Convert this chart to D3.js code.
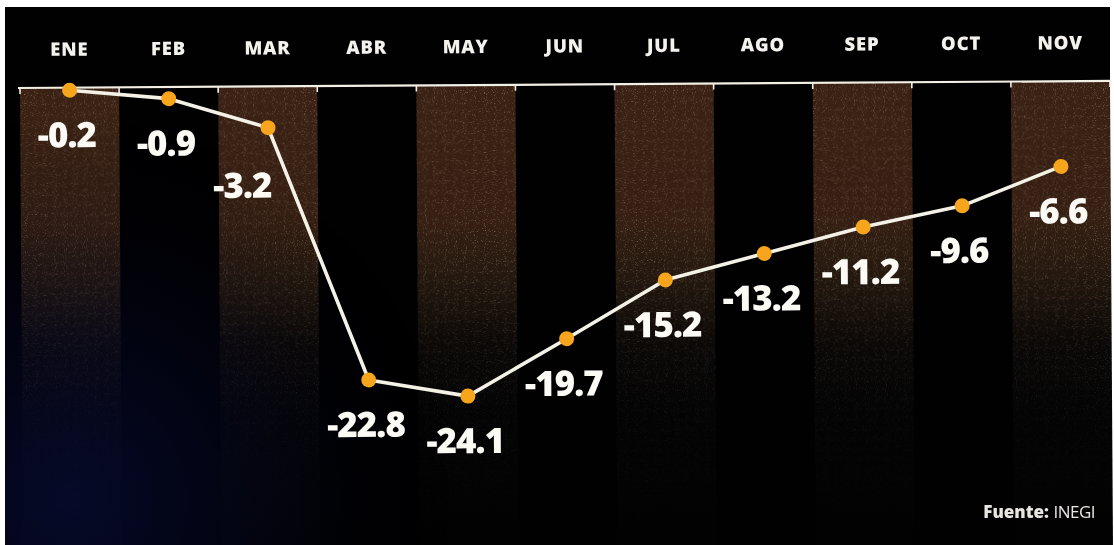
<!DOCTYPE html>
<html><head><meta charset="utf-8">
<script src="https://cdn.jsdelivr.net/npm/d3@7"></script>
<style>
html,body{margin:0;padding:0;background:#fff;}
svg{display:block;}
</style></head>
<body>
<svg id="chart" width="1114" height="545"></svg>
<script>
const months = ["ENE","FEB","MAR","ABR","MAY","JUN","JUL","AGO","SEP","OCT","NOV"];
const values = [-0.2,-0.9,-3.2,-22.8,-24.1,-19.7,-15.2,-13.2,-11.2,-9.6,-6.6];
const valueLabels = ["-0.2","-0.9","-3.2","-22.8","-24.1","-19.7","-15.2","-13.2","-11.2","-9.6","-6.6"];
const sourceBold = "Fuente:";
const sourceText = "INEGI";

const W = 1114, H = 545;
const svg = d3.select("#chart");
const defs = svg.append("defs");

const colGrad = defs.append("linearGradient").attr("id","colGrad").attr("gradientUnits","userSpaceOnUse")
  .attr("x1",0).attr("y1",88).attr("x2",0).attr("y2",545);
[["0%","#3a2114"],["30%","#351f12"],["42%","#24180e"],["56%","#0c0907"],["72%","#040405"],["100%","#020203"]]
  .forEach(([o,c])=>colGrad.append("stop").attr("offset",o).attr("stop-color",c));

// faint bluish glow at the lower left
const glow = defs.append("radialGradient").attr("id","glow").attr("gradientUnits","userSpaceOnUse")
  .attr("cx",70).attr("cy",500).attr("r",380);
glow.append("stop").attr("offset","0%").attr("stop-color","#0a1048").attr("stop-opacity",0.55);
glow.append("stop").attr("offset","45%").attr("stop-color","#070b36").attr("stop-opacity",0.3);
glow.append("stop").attr("offset","100%").attr("stop-color","#000000").attr("stop-opacity",0);

// speckle noise
const f = defs.append("filter").attr("id","speckle").attr("x",0).attr("y",0).attr("width","100%").attr("height","100%");
f.append("feTurbulence").attr("type","fractalNoise").attr("baseFrequency",0.9).attr("numOctaves",1).attr("seed",3).attr("result","n");
f.append("feColorMatrix").attr("in","n").attr("type","matrix")
  .attr("values","0 0 0 0 1  0 0 0 0 0.8  0 0 0 0 0.65  3 0 0 0 -1.75").attr("result","dots");
f.append("feComposite").attr("in","dots").attr("in2","SourceGraphic").attr("operator","in");

const fadeG = defs.append("linearGradient").attr("id","fadeG").attr("gradientUnits","userSpaceOnUse")
  .attr("x1",0).attr("y1",88).attr("x2",0).attr("y2",545);
fadeG.append("stop").attr("offset","0%").attr("stop-color","#fff").attr("stop-opacity",0.5);
fadeG.append("stop").attr("offset","45%").attr("stop-color","#fff").attr("stop-opacity",0.45);
fadeG.append("stop").attr("offset","70%").attr("stop-color","#fff").attr("stop-opacity",0.12);
fadeG.append("stop").attr("offset","100%").attr("stop-color","#fff").attr("stop-opacity",0.0);
const mask = defs.append("mask").attr("id","fadeMask").attr("maskUnits","userSpaceOnUse")
  .attr("x",0).attr("y",0).attr("width",W).attr("height",H);
mask.append("rect").attr("x",0).attr("y",80).attr("width",W).attr("height",H).attr("fill","url(#fadeG)");

svg.append("rect").attr("x",5).attr("y",7).attr("width",1105).attr("height",H-7).attr("fill","#010102");

const g = svg.append("g").attr("transform","rotate(-0.37,20,88)");
const bgLayer = g.append("g");
const glowLayer = svg.append("g");
const fg = svg.append("g").attr("transform","rotate(-0.37,20,88)");

const x = d3.scaleBand().domain(months).range([20,1110]).padding(0);
const y = d3.scaleLinear().domain([0,-24.1]).range([88,399]);
const top0 = y(0);

// alternating columns
const odd = months.filter((m,i)=>i%2===0);
bgLayer.selectAll("rect.col").data(odd).join("rect").attr("class","col")
  .attr("x",d=>x(d)).attr("y",top0).attr("width",x.bandwidth()).attr("height",H-top0+10)
  .attr("fill","url(#colGrad)");
const spk = bgLayer.append("g").attr("mask","url(#fadeMask)");
spk.selectAll("rect.sp").data(odd).join("rect").attr("class","sp")
  .attr("x",d=>x(d)).attr("y",top0).attr("width",x.bandwidth()).attr("height",H-top0+10)
  .attr("fill","#fff").attr("filter","url(#speckle)");

glowLayer.append("rect").attr("x",5).attr("y",92).attr("width",1105).attr("height",H-92).attr("fill","url(#glow)");

// top axis line and ticks
const bounds = months.map(m=>x(m)).concat([x(months[months.length-1])+x.bandwidth()]);
fg.append("line").attr("x1",18).attr("x2",1111).attr("y1",top0).attr("y2",top0)
  .attr("stroke","#f2efe4").attr("stroke-width",2.2);
fg.selectAll("line.tick").data(bounds).join("line").attr("class","tick")
  .attr("x1",d=>d).attr("x2",d=>d).attr("y1",top0).attr("y2",top0+6)
  .attr("stroke","#f2efe4").attr("stroke-width",1.6);

// month labels
fg.selectAll("text.m").data(months).join("text").attr("class","m")
  .attr("x",d=>x(d)+x.bandwidth()/2).attr("y",56)
  .attr("text-anchor","middle").attr("fill","#f4f2ec")
  .attr("font-family","'Open Sans', sans-serif").attr("font-weight",800)
  .attr("font-size",18.5).attr("letter-spacing",0.8)
  .text(d=>d);

// line
const pts = months.map((m,i)=>({m, v:values[i], lab:valueLabels[i], i}));
const line = d3.line().x(d=>x(d.m)+x.bandwidth()/2).y(d=>y(d.v));
fg.append("path").datum(pts).attr("d",line).attr("fill","none")
  .attr("stroke","#f4f1e6").attr("stroke-width",3.6).attr("stroke-linejoin","round");
fg.selectAll("circle.pt").data(pts).join("circle").attr("class","pt")
  .attr("cx",d=>x(d.m)+x.bandwidth()/2).attr("cy",d=>y(d.v)).attr("r",7.5)
  .attr("fill","#f7a51c");

// value labels: below the point; nudged left/down where the next segment drops steeply
function steep(d){ const nxt = values[d.i+1]; return nxt!==undefined && (d.v - nxt) > 10; }
fg.selectAll("text.v").data(pts).join("text").attr("class","v")
  .attr("x",d=>x(d.m)+x.bandwidth()/2 + (steep(d)?-26:-3))
  .attr("y",d=>y(d.v) + (steep(d)?70:57))
  .attr("text-anchor","middle").attr("fill","#fbfaf5")
  .attr("font-family","'Open Sans', sans-serif").attr("font-weight",800)
  .attr("font-size",35).attr("letter-spacing",-1)
  .text(d=>d.lab);

// source
const src = svg.append("text").attr("x",1095).attr("y",518).attr("text-anchor","end")
  .attr("fill","#e8e6e0").attr("font-family","'Open Sans', sans-serif").attr("font-size",17);
src.append("tspan").attr("font-weight",800).text(sourceBold+" ");
src.append("tspan").attr("font-weight",400).attr("letter-spacing",-0.5).text(sourceText);
</script>
</body></html>
